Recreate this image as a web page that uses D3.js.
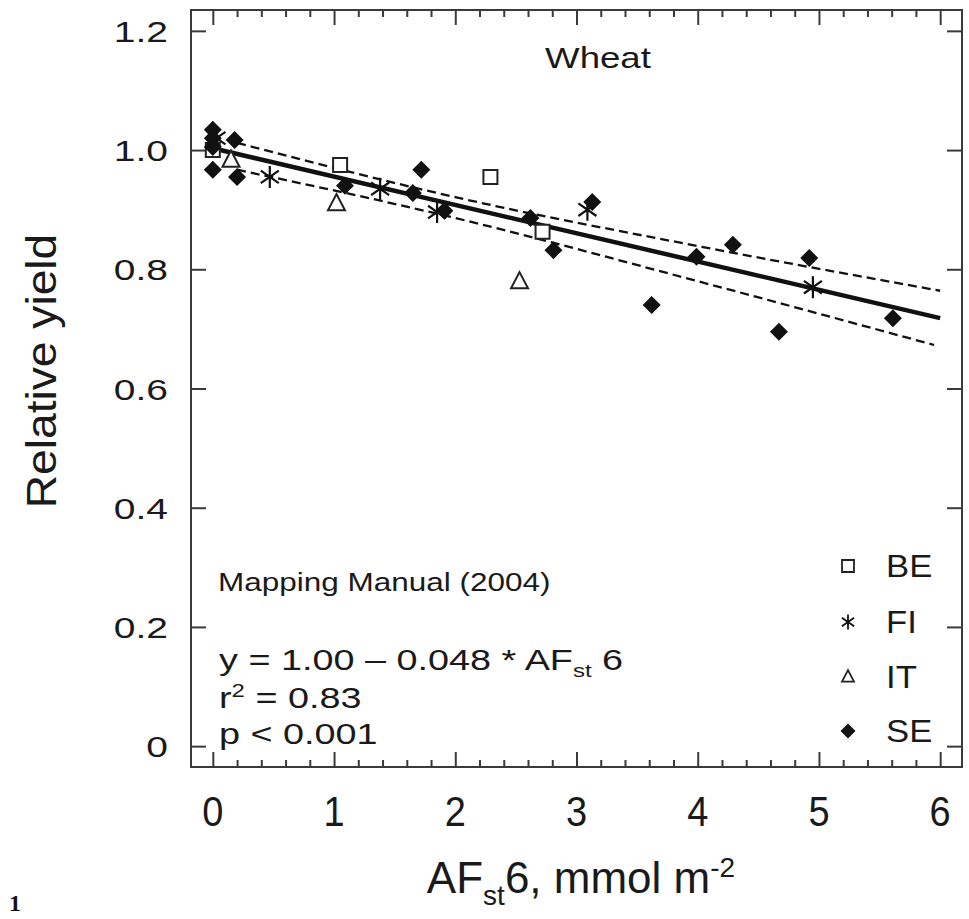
<!DOCTYPE html>
<html><head><meta charset="utf-8">
<script src="https://cdn.jsdelivr.net/npm/d3@7"></script>
<style>
html,body{margin:0;padding:0;background:#fff;}
svg{display:block;font-family:"Liberation Sans",Arial,sans-serif;}
</style></head>
<body>
<svg id="chart" width="969" height="919"></svg>
<script>
// ---- data ----
const seriesNames = ["BE", "FI", "IT", "SE"];
const beX = [0, 1.05, 2.29, 2.72];
const beY = [1.0, 0.975, 0.955, 0.863];
const fiX = [0.03, 0.47, 1.38, 1.85, 3.09, 4.95];
const fiY = [1.02, 0.955, 0.935, 0.896, 0.90, 0.77];
const itX = [0.15, 1.02, 2.53];
const itY = [0.983, 0.91, 0.779];
const seX = [0, 0, 0, 0, 0.18, 0.2, 1.09, 1.65, 1.72, 1.91, 2.62, 2.81, 3.13, 3.62, 3.99, 4.29, 4.67, 4.92, 5.61];
const seY = [1.034, 1.02, 1.005, 0.967, 1.017, 0.955, 0.94, 0.928, 0.967, 0.898, 0.886, 0.832, 0.913, 0.74, 0.821, 0.841, 0.695, 0.819, 0.718];
const fitX = [0, 6];
const fitY = [1.003, 0.718];
const upperX = [0.2, 2, 4, 6];
const upperY = [1.012, 0.921, 0.839, 0.764];
const lowerX = [0.2, 2, 4, 5.95];
const lowerY = [0.967, 0.886, 0.780, 0.673];
const xTicks = [0, 1, 2, 3, 4, 5, 6];
const xTickLabels = ["0", "1", "2", "3", "4", "5", "6"];
const yTicks = [0, 0.2, 0.4, 0.6, 0.8, 1.0, 1.2];
const yTickLabels = ["0", "0.2", "0.4", "0.6", "0.8", "1.0", "1.2"];
const xMinorTicks = d3.range(0, 6.01, 0.2);

const svg = d3.select("#chart");
const x = d3.scaleLinear().domain([-0.18, 6.18]).range([191, 962]);
const y = d3.scaleLinear().domain([-0.035, 1.235]).range([767, 10]);
const ink = "#1a1a1a";
const frameCol = "#3a3a3a";

// frame
svg.append("rect").attr("x", x(-0.18)).attr("y", y(1.235))
  .attr("width", x(6.18) - x(-0.18)).attr("height", y(-0.035) - y(1.235))
  .attr("fill", "none").attr("stroke", frameCol).attr("stroke-width", 2);

// axes with inward ticks
const minor = xMinorTicks.filter(v => Math.abs(v - Math.round(v)) > 1e-6);
const axB = d3.axisBottom(x).tickValues(xTicks).tickSize(-15).tickFormat("");
const axBm = d3.axisBottom(x).tickValues(minor).tickSize(-7).tickFormat("");
const axT = d3.axisTop(x).tickValues(xTicks).tickSize(-15).tickFormat("");
const axTm = d3.axisTop(x).tickValues(minor).tickSize(-7).tickFormat("");
const axL = d3.axisLeft(y).tickValues(yTicks).tickSize(-15).tickFormat("");
const axR = d3.axisRight(y).tickValues(yTicks).tickSize(-15).tickFormat("");
function drawAx(a, tr) {
  const g = svg.append("g").attr("transform", tr).call(a);
  g.select(".domain").remove();
  g.selectAll("line").attr("stroke", frameCol).attr("stroke-width", 2);
}
drawAx(axB, `translate(0,${y(-0.035)})`);
drawAx(axBm, `translate(0,${y(-0.035)})`);
drawAx(axT, `translate(0,${y(1.235)})`);
drawAx(axTm, `translate(0,${y(1.235)})`);
drawAx(axL, `translate(${x(-0.18)},0)`);
drawAx(axR, `translate(${x(6.18)},0)`);

// tick labels
svg.append("g").selectAll("text").data(xTicks).join("text")
  .attr("transform", d => `translate(${x(d)},826) scale(0.95,1.05)`).attr("text-anchor", "middle")
  .attr("font-size", 40).attr("fill", ink).text((d, i) => xTickLabels[i]);
svg.append("g").selectAll("text").data(yTicks).join("text")
  .attr("transform", d => `translate(168,${y(d) + 11}) scale(1.3,1)`)
  .attr("text-anchor", "end").attr("font-size", 30).attr("fill", ink)
  .text((d, i) => yTickLabels[i]);

// axis titles
svg.append("text").attr("transform", "translate(56,371) rotate(-90) scale(1.1,1)")
  .attr("text-anchor", "middle").attr("font-size", 42).attr("fill", ink).text("Relative yield");
const xt = svg.append("text").attr("x", 581).attr("y", 893).attr("text-anchor", "middle")
  .attr("font-size", 44).attr("fill", ink);
xt.append("tspan").text("AF");
xt.append("tspan").attr("font-size", 28).attr("dy", 12).text("st");
xt.append("tspan").attr("dy", -12).text("6, mmol m");
xt.append("tspan").attr("font-size", 28).attr("dy", -16).text("-2");

// panel title
svg.append("text").attr("transform", "translate(598,68) scale(1.22,1)").attr("text-anchor", "middle")
  .attr("font-size", 30).attr("fill", ink).text("Wheat");

// regression + confidence lines
const line = d3.line().x(d => x(d[0])).y(d => y(d[1]));
const cline = d3.line().curve(d3.curveMonotoneX).x(d => x(d[0])).y(d => y(d[1]));
svg.append("path").datum(fitX.map((v, i) => [v, fitY[i]])).attr("d", line)
  .attr("fill", "none").attr("stroke", "#111").attr("stroke-width", 4.5);
svg.append("path").datum(upperX.map((v, i) => [v, upperY[i]])).attr("d", cline)
  .attr("fill", "none").attr("stroke", "#111").attr("stroke-width", 2.3).attr("stroke-dasharray", "9,5");
svg.append("path").datum(lowerX.map((v, i) => [v, lowerY[i]])).attr("d", cline)
  .attr("fill", "none").attr("stroke", "#111").attr("stroke-width", 2.3).attr("stroke-dasharray", "9,5");

// markers
function sym(name, size) {
  if (name === "BE") return d3.symbol(d3.symbolSquare, size * size)();
  if (name === "IT") {
    const h = size * 0.95, w = size / 2;
    return `M0,${-h * 0.6}L${w},${h * 0.4}L${-w},${h * 0.4}Z`;
  }
  if (name === "SE") {
    const r = size / 2;
    return `M0,${-r}L${r},0L0,${r}L${-r},0Z`;
  }
  // asterisk: vertical line + X
  const r = size / 2, p = [`M0,${-r}L0,${r}`];
  [35, -35].forEach(deg => {
    const a = deg * Math.PI / 180;
    p.push(`M${-r * Math.cos(a)},${-r * Math.sin(a)}L${r * Math.cos(a)},${r * Math.sin(a)}`);
  });
  return p.join("");
}
function style(sel, name, sw) {
  if (name === "SE") sel.attr("fill", "#111").attr("stroke", "none");
  else if (name === "FI") sel.attr("fill", "none").attr("stroke", "#111").attr("stroke-width", sw);
  else sel.attr("fill", "#fff").attr("stroke", "#222").attr("stroke-width", sw);
}
const allSeries = [
  ["BE", beX, beY, 14], ["IT", itX, itY, 17], ["FI", fiX, fiY, 22], ["SE", seX, seY, 18]
];
allSeries.forEach(([name, xs, ys, s]) => {
  const g = svg.append("g");
  const sel = g.selectAll("path").data(xs.map((v, i) => [v, ys[i]])).join("path")
    .attr("transform", d => `translate(${x(d[0])},${y(d[1])})`).attr("d", sym(name, s));
  style(sel, name, name === "FI" ? 2.2 : 2);
});

// annotations
svg.append("text").attr("transform", "translate(218,591) scale(1.26,1)").attr("font-size", 25)
  .attr("fill", ink).text("Mapping Manual (2004)");
const eq = svg.append("text").attr("transform", "translate(219,670) scale(1.26,1)").attr("font-size", 30).attr("fill", ink);
eq.append("tspan").text("y = 1.00 \u2013 0.048 * AF");
eq.append("tspan").attr("font-size", 19).attr("dy", 7).text("st");
eq.append("tspan").attr("dy", -7).text(" 6");
const r2 = svg.append("text").attr("transform", "translate(219,708) scale(1.26,1)").attr("font-size", 30).attr("fill", ink);
r2.append("tspan").text("r");
r2.append("tspan").attr("font-size", 19).attr("dy", -11).text("2");
r2.append("tspan").attr("dy", 11).text(" = 0.83");
svg.append("text").attr("transform", "translate(219,744) scale(1.26,1)").attr("font-size", 30)
  .attr("fill", ink).text("p < 0.001");

// legend
const legY = [566, 622, 677, 731];
const legSize = { BE: 12, FI: 15, IT: 12, SE: 15 };
const lg = svg.append("g");
seriesNames.forEach((name, i) => {
  const p = lg.append("path").attr("transform", `translate(848,${legY[i]})`)
    .attr("d", sym(name, legSize[name]));
  style(p, name, 1.8);
  lg.append("text").attr("transform", `translate(886,${legY[i] + 11}) scale(1.12,1)`)
    .attr("font-size", 31).attr("fill", ink).text(name);
});

// panel letter at the bottom-left edge
svg.append("text").attr("x", 9).attr("y", 911).attr("font-family", "Liberation Serif, serif")
  .attr("font-weight", "bold").attr("font-size", 24).attr("fill", "#111").text("1");
</script>
</body></html>
